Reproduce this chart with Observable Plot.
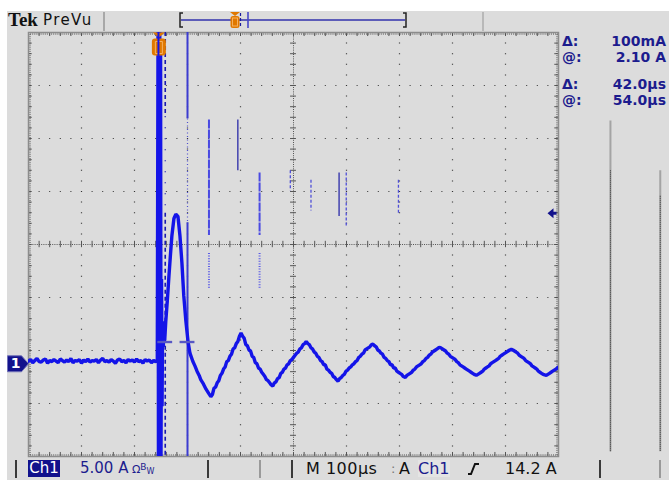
<!DOCTYPE html>
<html><head><meta charset="utf-8">
<script src="https://cdn.jsdelivr.net/npm/d3@7"></script>
<script src="https://cdn.jsdelivr.net/npm/@observablehq/plot@0.6"></script>
<style>
body{margin:0;background:#fff;}
#wrap{position:relative;width:669px;height:480px;overflow:hidden;background:#fff;}
#bg{position:absolute;left:7px;top:11px;right:0;bottom:0;background:#dcdcdc;}
#chart{position:absolute;left:0;top:0;}
.t{position:absolute;white-space:nowrap;font-family:"DejaVu Sans",sans-serif;line-height:16px;}
.ro{font-weight:bold;font-size:14px;color:#1c1c8e;}
.rv{right:3px;text-align:right;}
.sep{position:absolute;width:2px;background:#3a3a3a;}
</style></head><body>
<div id="wrap">
  <div id="bg"></div>
  <div id="chart"></div>

  <!-- top status bar -->
  <div class="t" style="left:8px;top:10px;font-family:'Liberation Serif',serif;font-weight:bold;font-size:19px;line-height:20px;color:#111;">Tek</div>
  <div class="t" style="left:43px;top:11px;font-size:15px;line-height:18px;letter-spacing:1.4px;color:#111;">PreVu</div>
  <div class="sep" style="left:103px;top:12px;height:19px;background:#a8a8a8;"></div>
  <div class="sep" style="left:482px;top:12px;height:19px;background:#b8b8b8;"></div>
  <svg style="position:absolute;left:0;top:0" width="669" height="32">
    <path d="M183,13 H180 V27 H183" fill="none" stroke="#222" stroke-width="1.5"/>
    <path d="M403,13 H406 V27 H403" fill="none" stroke="#222" stroke-width="1.5"/>
    <line x1="181" y1="20" x2="405" y2="20" stroke="#5c5cb8" stroke-width="2"/>
    <path d="M230,12 H240 L235,16 Z" fill="#e07800"/>
    <rect x="230.5" y="16" width="9" height="12" rx="2.5" fill="#e07800"/>
    <rect x="232.5" y="18" width="5" height="8" fill="none" stroke="#f5b060" stroke-width="1"/>
    <line x1="240.5" y1="13" x2="240.5" y2="28" stroke="#1a1aa0" stroke-width="1.2" stroke-dasharray="3,2"/>
    <line x1="248" y1="12" x2="248" y2="28" stroke="#4848c8" stroke-width="1.6"/>
  </svg>

  <!-- cursor readouts -->
  <div class="t ro" style="left:562px;top:33px;">Δ:</div>
  <div class="t ro rv" style="top:33px;">100mA</div>
  <div class="t ro" style="left:562px;top:49px;">@:</div>
  <div class="t ro rv" style="top:49px;">2.10 A</div>
  <div class="t ro" style="left:562px;top:76px;">Δ:</div>
  <div class="t ro rv" style="top:76px;">42.0µs</div>
  <div class="t ro" style="left:562px;top:92px;">@:</div>
  <div class="t ro rv" style="top:92px;">54.0µs</div>

  <!-- bottom status bar -->
  <div class="sep" style="left:15px;top:460px;height:18px;"></div>
  <div class="t" style="left:28px;top:460px;width:32px;height:17px;background:#12128c;color:#fff;font-size:15px;line-height:17px;text-align:center;">Ch1</div>
  <div class="t" style="left:80px;top:460px;font-size:15px;line-height:17px;color:#1c1c8e;">5.00 A<span style="font-size:11px;"> Ω</span><span style="font-size:9px;position:relative;top:-3px;">B</span><span style="font-size:8px;position:relative;top:1px;">W</span></div>
  <div class="sep" style="left:207px;top:460px;height:18px;"></div>
  <div class="sep" style="left:259px;top:460px;height:18px;background:#9a9a9a;"></div>
  <div class="sep" style="left:291px;top:460px;height:18px;"></div>
  <div class="t" style="left:306px;top:460px;font-size:16px;line-height:17px;color:#111;letter-spacing:0.5px;">M 100µs</div>
  <div class="t" style="left:391px;top:460px;font-size:13px;line-height:17px;color:#777;">:</div>
  <div class="t" style="left:399px;top:460px;font-size:16px;line-height:17px;color:#111;">A</div>
  <div class="t" style="left:418px;top:460px;width:32px;height:17px;font-size:16px;line-height:17px;color:#1c1c8e;background:#e4e4e4;">Ch1</div>
  <svg style="position:absolute;left:462px;top:461px" width="24" height="16">
    <path d="M6,13 H9 L13,3 H17" fill="none" stroke="#111" stroke-width="2"/>
  </svg>
  <div class="t" style="left:505px;top:460px;font-size:16px;line-height:17px;color:#111;">14.2 A</div>
  <div class="sep" style="left:599px;top:460px;height:18px;"></div>
  <div class="sep" style="left:659px;top:460px;height:18px;background:#9a9a9a;"></div>
</div>
<script>
// ---- scales (M 100 µs/div, 10 div; Ch1 5.00 A/div, 8 div) ----
const timeStart = -246, timeEnd = 754;          // µs, trigger at 0
const ampMin = -8.75, ampMax = 31.25;           // A, ground at 0
const gridTimes = [-146, -46, 54, 154, 354, 454, 554, 654];
const centerTime = 254;
const gridAmps = [-3.75, 1.25, 6.25, 16.25, 21.25, 26.25];
const centerAmp = 11.25;
const minorTimes = d3.range(timeStart, timeEnd + 0.1, 20);
const minorAmps = d3.range(ampMin, ampMax + 0.1, 1);

// ---- trace (time µs, current A) ----
const preTrigger = [
[-246,0.25],[-242,0.4],[-238,0.1],[-234,0.3],[-230,0.5],[-226,0.2],[-222,0.15],[-218,0.35],[-214,0.45],[-210,0.05],
[-206,0.3],[-202,0.2],[-198,0.4],[-194,0.25],[-190,0.1],[-186,0.45],[-182,0.3],[-178,0.15],[-174,0.35],[-170,0.2],
[-166,0.5],[-162,0.1],[-158,0.3],[-154,0.25],[-150,0.4],[-146,0.05],[-142,0.35],[-138,0.2],[-134,0.45],[-130,0.15],
[-126,0.3],[-122,0.25],[-118,0.4],[-114,0.1],[-110,0.35],[-106,0.5],[-102,0.2],[-98,0.3],[-94,0.15],[-90,0.4],
[-86,0.25],[-82,0.05],[-78,0.35],[-74,0.45],[-70,0.2],[-66,0.3],[-62,0.1],[-58,0.4],[-54,0.25],[-50,0.35],
[-46,0.15],[-42,0.45],[-38,0.2],[-34,0.3],[-30,0.05],[-26,0.4],[-22,0.25],[-18,0.35],[-14,0.1],[-10,0.3],[-6,0.2],[-3,0.3]
];
const spike = [
[-1.5,34],[-0.8,-10],[0,34],[0.8,-10],[1.6,34],[2.4,-10],[3.2,30],[4,-9],[5,8],[6,-4],[7,4],[8.2,1.6],[9.5,2.8],[11,2.2]
];
const pulse = [
[13,4.0],[16,6.0],[19,8.3],[22,10.4],[24.6,12.1],[28.4,13.7],[32,14.1],[36,13.9],[39.7,12.1],[43.5,9.5],
[47,6.4],[51,4.0],[55,2.1],[58.6,1.0],[64,0.24],[68,-0.2],[72,-0.7],[76,-1.1],[79,-1.5],[84,-1.9],[89,-2.4],[94,-2.8]
];
const ringing = [
[98,-3.1],[101,-2.9],[104,-2.3],[107,-2.2],[110,-1.8],[113,-1.6],[116,-1.1],[119,-0.9],[122,-0.5],[125,-0.3],[128,0.2],[131,0.3],[134,0.7],[137,0.9],[140,1.4],[143,1.5],[146,1.9],[149,2.1],[152,2.6],[155,2.9],
[158,2.6],[161,2.4],[164,1.8],[167,1.7],[170,1.3],[173,1.2],[176,0.7],[179,0.6],[182,0.1],[185,0.0],[188,-0.4],[191,-0.5],[194,-0.8],[197,-1.0],[200,-1.2],[203,-1.5],[206,-1.6],[209,-1.8],[212,-2.0],[215,-2.1],
[218,-1.8],[221,-1.7],[224,-1.4],[227,-1.3],[230,-0.9],[233,-0.8],[236,-0.5],[239,-0.4],[242,-0.1],[245,0.0],[248,0.3],[251,0.4],[254,0.6],[257,0.8],[260,1.0],[263,1.1],[266,1.4],[269,1.5],[272,1.8],[275,1.9],[278,2.1],
[281,1.9],[284,1.8],[287,1.5],[290,1.4],[293,1.1],[296,1.0],[299,0.7],[302,0.6],[305,0.3],[308,0.2],[311,-0.1],[314,-0.1],[317,-0.5],[320,-0.6],[323,-0.8],[326,-0.9],[329,-1.2],[332,-1.3],[335,-1.5],[338,-1.65],
[341,-1.4],[344,-1.3],[347,-1.1],[350,-1.0],[353,-0.7],[356,-0.6],[359,-0.4],[362,-0.3],[365,-0.1],[368,0.0],[371,0.2],[374,0.3],[377,0.6],[380,0.7],[383,0.9],[386,1.0],[389,1.3],[392,1.4],[395,1.5],[398,1.6],[401,1.8],[404,1.84],
[407,1.7],[410,1.6],[413,1.3],[416,1.2],[419,1.0],[422,0.9],[425,0.6],[428,0.5],[431,0.3],[434,0.2],[437,-0.1],[440,-0.1],[443,-0.4],[446,-0.4],[449,-0.7],[452,-0.8],[455,-0.9],[458,-1.0],[461,-1.2],[465,-1.28],
[468,-1.1],[471,-1.0],[474,-0.9],[477,-0.8],[480,-0.6],[483,-0.5],[486,-0.3],[489,-0.2],[492,-0.1],[495,0.0],[498,0.2],[501,0.3],[504,0.5],[507,0.6],[510,0.8],[513,0.9],[516,1.1],[519,1.2],[522,1.3],[525,1.4],[529,1.56],
[532,1.5],[535,1.4],[538,1.3],[541,1.2],[544,1.0],[547,0.9],[550,0.7],[553,0.6],[556,0.5],[559,0.4],[562,0.2],[565,0.1],[568,-0.1],[571,-0.2],[574,-0.3],[577,-0.4],[580,-0.5],[583,-0.6],[586,-0.7],[589,-0.8],[592,-0.9],[595,-1.0],[599,-1.09],
[602,-1.0],[605,-0.9],[608,-0.8],[611,-0.7],[614,-0.5],[617,-0.4],[620,-0.3],[623,-0.2],[626,0.0],[629,0.1],[632,0.2],[635,0.3],[638,0.4],[641,0.5],[644,0.7],[647,0.8],[650,0.9],[653,1.0],[656,1.1],[659,1.2],[662,1.3],[665,1.37],
[668,1.3],[671,1.2],[674,1.1],[677,1.0],[680,0.8],[683,0.7],[686,0.6],[689,0.5],[692,0.3],[695,0.2],[698,0.1],[701,0.0],[704,-0.2],[707,-0.3],[710,-0.4],[713,-0.5],[716,-0.7],[719,-0.8],[722,-0.9],[725,-1.0],[728,-1.05],[731,-1.09],
[734,-1.0],[737,-0.9],[740,-0.8],[743,-0.7],[746,-0.6],[749,-0.5],[752,-0.4],[754,-0.3]
];

// ---- cursors ----
const timeCursors = {dashed: 12, solid: 54};     // Δ 42.0 µs, @ 54.0 µs
const ampCursors = [2.0, 2.1];                   // Δ 100 mA, @ 2.10 A
const solidCursorGap = [23.1, 13.3];
const dashedCursorGap = [23.3, 14.2];
const triggerLevel = 14.2;
const triggerTrace = [{t: -0.8, from: 31.25, to: 29.0}];   // thin part of the spike crossing the trigger marker

// ---- display artefacts (ghost segments) ----
const ghostBroken = [{t: 94.5, from: 23.0, to: 12.1}, {t: 190, from: 18.0, to: 12.1}];
const ghostDotted = [{t: 94.5, from: 10.4, to: 7.1}, {t: 190, from: 10.4, to: 7.1}];
const ghostThin = [{t: 149, from: 23.0, to: 18.2}, {t: 340, from: 18.0, to: 13.9}];
const ghostDashed = [{t: 248, from: 18.2, to: 16.3}, {t: 287, from: 17.3, to: 14.4}, {t: 353.5, from: 18.0, to: 13.0}, {t: 452, from: 17.3, to: 14.2}];
const sideLight = [{t: 852, from: 22.9, to: -8.3}, {t: 946, from: 18.2, to: -8.3}];
const sideDark = [{t: 852, from: 18.2, to: -8.3}, {t: 946, from: 15.8, to: -8.3}];

const toPts = a => a.map(([t, i]) => ({t, i}));
const trace = toPts([...preTrigger, ...spike, ...pulse, ...ringing]);

const triggerSymbol = {draw(c) {
  c.moveTo(-6, 0); c.lineTo(6, 0); c.lineTo(0, 5); c.closePath();
  c.moveTo(-4, 6); c.lineTo(4, 6); c.arcTo(7, 6, 7, 9, 3); c.lineTo(7, 20); c.arcTo(7, 23, 4, 23, 3);
  c.lineTo(-4, 23); c.arcTo(-7, 23, -7, 20, 3); c.lineTo(-7, 9); c.arcTo(-7, 6, -4, 6, 3); c.closePath();
}};
const triggerInner = {draw(c) { c.moveTo(-3.5, 9); c.lineTo(3.5, 9); c.lineTo(3.5, 21); c.lineTo(-3.5, 21); c.closePath(); }};
const groundSymbol = {draw(c) {
  c.moveTo(-21, -8); c.lineTo(-7, -8); c.lineTo(0, 0); c.lineTo(-7, 8); c.lineTo(-21, 8); c.closePath();
}};
const levelSymbol = {draw(c) {
  c.moveTo(-11, 0); c.lineTo(-5, -5); c.lineTo(-5, -1.5); c.lineTo(-2, -1.5); c.lineTo(-2, 1.5); c.lineTo(-5, 1.5); c.lineTo(-5, 5); c.closePath();
}};

const dotted = "1,9.6";
const plot = Plot.plot({
  width: 669, height: 480,
  marginLeft: 28, marginRight: 111, marginTop: 32, marginBottom: 24,
  x: {domain: [timeStart, timeEnd], axis: null},
  y: {domain: [ampMin, ampMax], axis: null},
  style: {background: "transparent", fontFamily: "DejaVu Sans, sans-serif"},
  marks: [
    // graticule
    Plot.ruleX(gridTimes, {stroke: "#333", strokeWidth: 1.2, strokeDasharray: dotted}),
    Plot.ruleY(gridAmps, {stroke: "#333", strokeWidth: 1.2, strokeDasharray: dotted}),
    Plot.ruleX([centerTime], {stroke: "#555", strokeDasharray: "1,1.2"}),
    Plot.ruleY([centerAmp], {stroke: "#555", strokeDasharray: "1,1.2"}),
    Plot.ruleX(minorTimes, {x: d => d, y1: centerAmp - 0.3, y2: centerAmp + 0.3, stroke: "#555"}),
    Plot.ruleY(minorAmps, {y: d => d, x1: centerTime - 5.6, x2: centerTime + 5.6, stroke: "#555"}),
    Plot.ruleX(minorTimes, {x: d => d, y1: ampMax, y2: ampMax - 0.38, stroke: "#555"}),
    Plot.ruleX(minorTimes, {x: d => d, y1: ampMin, y2: ampMin + 0.38, stroke: "#555"}),
    Plot.ruleY(minorAmps, {y: d => d, x1: timeStart, x2: timeStart + 7, stroke: "#555"}),
    Plot.ruleY(minorAmps, {y: d => d, x1: timeEnd - 7, x2: timeEnd, stroke: "#555"}),
    Plot.ruleY([ampMax], {dy: 1.5, stroke: "#444", strokeDasharray: "1,1.1"}),
    Plot.ruleY([ampMin], {dy: -1.5, stroke: "#444", strokeDasharray: "1,1.1"}),
    Plot.ruleX([timeStart], {dx: 1.5, stroke: "#444", strokeDasharray: "1,1.1"}),
    Plot.ruleX([timeEnd], {dx: -1.5, stroke: "#444", strokeDasharray: "1,1.1"}),
    Plot.frame({stroke: "#8c8c8c", strokeWidth: 1.5}),
    // side bars outside the graticule
    Plot.ruleX(sideLight, {x: "t", y1: "from", y2: "to", stroke: "#a4a4a4", strokeWidth: 2}),
    Plot.ruleX(sideDark, {x: "t", y1: "from", y2: "to", stroke: "#333", strokeWidth: 1, strokeDasharray: "1,1"}),
    // ghost segments
    Plot.ruleX(ghostBroken, {x: "t", y1: "from", y2: "to", stroke: "#4a4ae2", strokeWidth: 2, strokeDasharray: "9,1"}),
    Plot.ruleX(ghostDotted, {x: "t", y1: "from", y2: "to", stroke: "#5a5ae6", strokeWidth: 2, strokeDasharray: "1,1.6"}),
    Plot.ruleX(ghostThin, {x: "t", y1: "from", y2: "to", stroke: "#2a2aa8", strokeWidth: 1.3}),
    Plot.ruleX(ghostDashed, {x: "t", y1: "from", y2: "to", stroke: "#5050d8", strokeWidth: 1.3, strokeDasharray: "3,2"}),
    // time cursors
    Plot.ruleX([timeCursors.solid], {y1: ampMax, y2: solidCursorGap[0], stroke: "#3c3cd0", strokeWidth: 2}),
    Plot.ruleX([timeCursors.solid], {y1: solidCursorGap[0], y2: solidCursorGap[1], stroke: "#5050d0", strokeWidth: 1.2, strokeDasharray: "1,2.5"}),
    Plot.ruleX([timeCursors.solid], {y1: solidCursorGap[1], y2: ampMin, stroke: "#3c3cd0", strokeWidth: 2}),
    Plot.ruleX([timeCursors.dashed], {y1: ampMax, y2: dashedCursorGap[0], stroke: "#1a1ab0", strokeWidth: 1.6, strokeDasharray: "4,3"}),
    Plot.ruleX([timeCursors.dashed], {y1: dashedCursorGap[0], y2: dashedCursorGap[1], stroke: "#1a1ab0", strokeWidth: 1.3, strokeDasharray: "1,10"}),
    Plot.ruleX([timeCursors.dashed], {y1: dashedCursorGap[1], y2: ampMin, stroke: "#1a1ab0", strokeWidth: 1.6, strokeDasharray: "4,3"}),
    // trace
    Plot.line(trace, {x: "t", y: "i", stroke: "#1414e8", strokeWidth: 3.4, clip: true, strokeLinejoin: "miter"}),
    // trigger position marker (on top of the spike, with the trace line crossing it)
    Plot.dot([{t: 0, i: ampMax}], {x: "t", y: "i", symbol: triggerSymbol, r: 5, fill: "#e07800", stroke: null}),
    Plot.dot([{t: 0, i: ampMax}], {x: "t", y: "i", symbol: triggerInner, r: 5, fill: "none", stroke: "#f5b060", strokeWidth: 1}),
    Plot.ruleX(triggerTrace, {x: "t", y1: "from", y2: "to", stroke: "#1414e8", strokeWidth: 2}),
    // amplitude cursors (short marks at the time cursors)
    Plot.ruleY(ampCursors, {y: d => d, x1: timeCursors.dashed - 14, x2: timeCursors.dashed + 14, stroke: "#5858c4", strokeWidth: 1.3}),
    Plot.ruleY(ampCursors, {y: d => d, x1: timeCursors.solid - 14, x2: timeCursors.solid + 14, stroke: "#5858c4", strokeWidth: 1.3}),
    // ground and trigger-level markers
    Plot.dot([{t: timeStart, i: 0}], {x: "t", y: "i", symbol: groundSymbol, r: 5, fill: "#12128c", stroke: "#7070b8", strokeWidth: 1}),
    Plot.text([{t: timeStart, i: 0}], {x: "t", y: "i", text: () => "1", dx: -13, fill: "white", fontWeight: "bold", fontSize: 14}),
    Plot.dot([{t: timeEnd, i: triggerLevel}], {x: "t", y: "i", symbol: levelSymbol, r: 5, fill: "#12128c", stroke: null})
  ]
});
document.getElementById("chart").appendChild(plot);
</script>
</body></html>
